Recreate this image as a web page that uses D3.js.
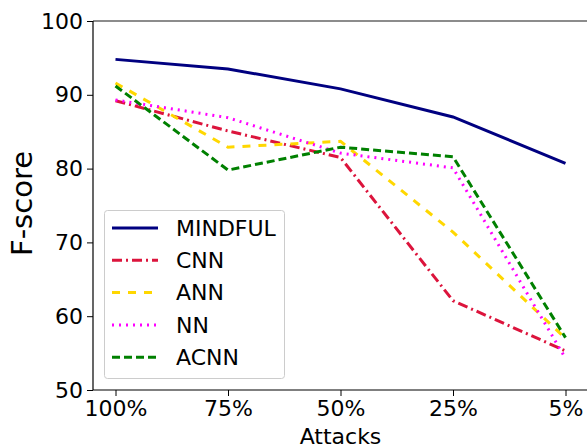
<!DOCTYPE html>
<meta charset="utf-8">
<script src="https://d3js.org/d3.v7.min.js"></script>
<style>
body { margin: 0; background: #fff; }
text { font-family: "DejaVu Sans", sans-serif; fill: #000; }
</style>
<body>
<script>

// attack levels on the x axis
var attacks = ["100%", "75%", "50%", "25%", "5%"];

// F-score per model
var mindful = [94.8, 93.5, 90.8, 87.0, 80.7];
var cnn     = [89.2, 85.1, 81.5, 62.1, 55.3];
var ann     = [91.6, 82.9, 83.7, 71.4, 57.0];
var nn      = [89.3, 86.9, 82.1, 80.1, 54.3];
var acnn    = [91.2, 79.8, 82.9, 81.6, 57.1];

var yTicks = [50, 60, 70, 80, 90, 100];

var series = [
  {name: "MINDFUL", values: mindful, color: "#000080", dash: null},
  {name: "CNN",     values: cnn,     color: "#dc143c", dash: "10,4,2,4"},
  {name: "ANN",     values: ann,     color: "#ffd700", dash: "8,8"},
  {name: "NN",      values: nn,      color: "#ff00ff", dash: "2,5"},
  {name: "ACNN",    values: acnn,    color: "#008000", dash: "8,4"}
];

var width = 587, height = 448;
var mLeft = 93, mRight = 588, mTop = 21, mBottom = 390;

var svg = d3.select("body").append("svg")
    .attr("width", width)
    .attr("height", height);

var x = d3.scalePoint()
    .domain(attacks)
    .range([mLeft, mRight])
    .padding(0.2);

var y = d3.scaleLinear()
    .domain([50, 100])
    .range([mBottom, mTop]);

// top spine (grey), right spine is beyond the crop
svg.append("line")
    .attr("x1", mLeft).attr("x2", width)
    .attr("y1", mTop).attr("y2", mTop)
    .attr("stroke", "#666").attr("stroke-width", 1.5);

var xAxis = svg.append("g")
    .attr("transform", "translate(0," + mBottom + ")")
    .call(d3.axisBottom(x).tickSizeOuter(0).tickSize(6).tickPadding(4));

var yAxis = svg.append("g")
    .attr("transform", "translate(" + mLeft + ",0)")
    .call(d3.axisLeft(y).tickValues(yTicks).tickSizeOuter(0).tickSize(6).tickPadding(4));

[xAxis, yAxis].forEach(function(g) {
  g.selectAll("text").style("font-size", "22px").style("font-family", "DejaVu Sans");
  g.select(".domain").attr("stroke", "#000").attr("stroke-width", 1.2);
  g.selectAll(".tick line").attr("stroke", "#000").attr("stroke-width", 1);
});
xAxis.select(".domain").attr("d", "M" + mLeft + ",0H" + width);
yAxis.select(".domain").attr("d", "M0," + mTop + "V" + mBottom);

// axis titles
svg.append("text")
    .attr("x", (mLeft + mRight) / 2)
    .attr("y", 444)
    .attr("text-anchor", "middle")
    .style("font-size", "22px")
    .text("Attacks");

svg.append("text")
    .attr("transform", "translate(32," + ((mTop + mBottom) / 2 - 2) + ") rotate(-90)")
    .attr("text-anchor", "middle")
    .style("font-size", "29px")
    .text("F-score");

var line = d3.line()
    .x(function(d, i) { return x(attacks[i]); })
    .y(function(d) { return y(d); });

svg.append("g")
  .selectAll("path")
  .data(series)
  .enter()
  .append("path")
    .attr("d", function(d) { return line(d.values); })
    .attr("fill", "none")
    .attr("stroke", function(d) { return d.color; })
    .attr("stroke-width", 3)
    .attr("stroke-dasharray", function(d) { return d.dash; });

// legend
var legend = svg.append("g");
legend.append("rect")
    .attr("x", 104.5).attr("y", 210.5)
    .attr("width", 180).attr("height", 168)
    .attr("rx", 3)
    .attr("fill", "#fff").attr("fill-opacity", 0.8)
    .attr("stroke", "#ccc");

var item = legend.selectAll(".item")
    .data(series)
    .enter().append("g")
    .attr("class", "item")
    .attr("transform", function(d, i) { return "translate(0," + (228 + i * 32.3) + ")"; });

item.append("line")
    .attr("x1", 112).attr("x2", 158)
    .attr("stroke", function(d) { return d.color; })
    .attr("stroke-width", 3)
    .attr("stroke-dasharray", function(d) { return d.dash; });

item.append("text")
    .attr("x", 176)
    .attr("dy", "0.35em")
    .style("font-size", "22px")
    .text(function(d) { return d.name; });

</script>
</body>
